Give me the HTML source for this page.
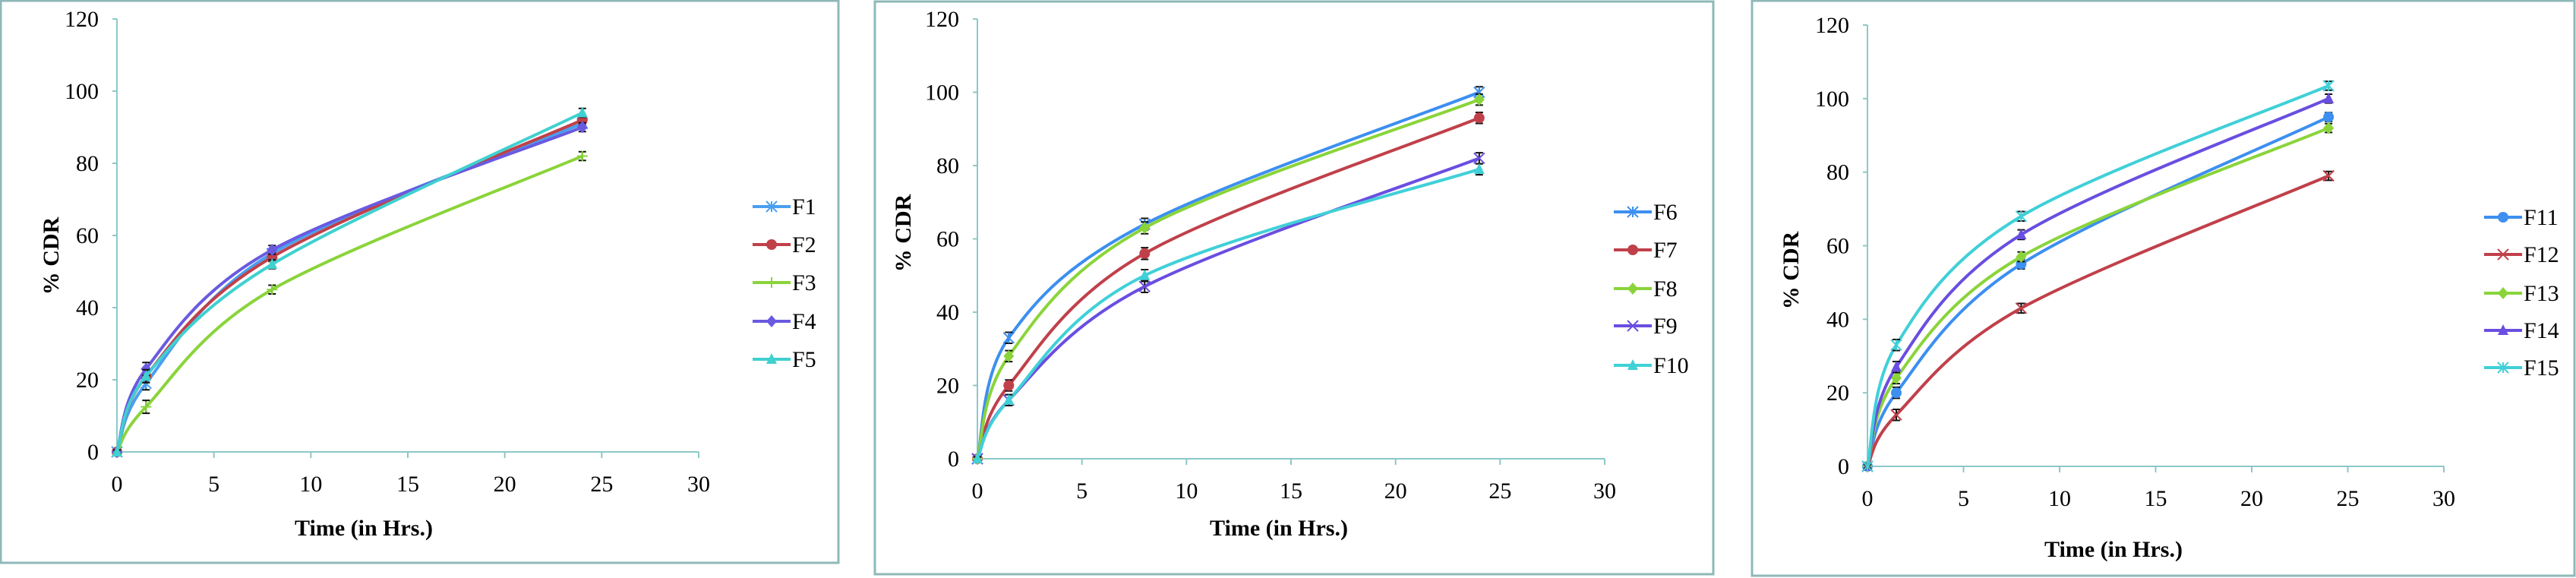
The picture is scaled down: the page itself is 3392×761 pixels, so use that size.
<!DOCTYPE html>
<html><head><meta charset="utf-8"><style>
html,body{margin:0;padding:0;background:#fff;}
svg{display:block;}
text{font-family:"Liberation Serif",serif;fill:#000;}
</style></head><body>
<svg id="chart" width="3392" height="761" viewBox="0 0 3392 761" xmlns="http://www.w3.org/2000/svg"></svg>
<script>
const times = [0, 1.5, 8, 24];
const xTicks = [0, 5, 10, 15, 20, 25, 30];
const yTicks = [0, 20, 40, 60, 80, 100, 120];

const p1Names = ["F1","F2","F3","F4","F5"];
const p1F1 = [0, 19, 55, 91];
const p1F2 = [0, 21, 54, 92];
const p1F3 = [0, 12.5, 45, 82];
const p1F4 = [0, 23, 56, 90];
const p1F5 = [0, 21, 52, 94];
const p1Err = [0.5, 1.8, 1.2, 1.2];

const p2Names = ["F6","F7","F8","F9","F10"];
const p2F6 = [0, 33, 64, 100];
const p2F7 = [0, 20, 56, 93];
const p2F8 = [0, 28, 63, 98];
const p2F9 = [0, 16, 47, 82];
const p2F10 = [0, 16, 50, 79];
const p2Err = [0.5, 1.5, 1.6, 1.5];

const p3Names = ["F11","F12","F13","F14","F15"];
const p3F11 = [0, 20, 55, 95];
const p3F12 = [0, 14, 43, 79];
const p3F13 = [0, 24, 57, 92];
const p3F14 = [0, 27, 63, 100];
const p3F15 = [0, 33, 68, 103.5];
const p3Err = [0.5, 1.5, 1.3, 1.2];

const NS = "http://www.w3.org/2000/svg";
const svg = document.getElementById("chart");
function mk(tag, attrs, parent){
  const e = document.createElementNS(NS, tag);
  for (const k in attrs) e.setAttribute(k, attrs[k]);
  (parent || svg).appendChild(e);
  return e;
}

const panels = [
  {border:[1,1,1104,741], x0:154, x1:920, y0:595, y1:25, names:p1Names, series:[p1F1,p1F2,p1F3,p1F4,p1F5], err:p1Err,
   colors:["#4a9ff0","#c0404a","#8ad43a","#6a5ae0","#40d0d0"], markers:["star","circle","plus","diamond","triangle"],
   legX:991, legY:[272,322,372,423,473], ylabX:77, ylabY:337, xlabX:479, xlabY:705},
  {border:[1152,2,2256,756], x0:1287, x1:2113, y0:604, y1:25, names:p2Names, series:[p2F6,p2F7,p2F8,p2F9,p2F10], err:p2Err,
   colors:["#3d8ff0","#c0404a","#8ad43a","#6a4ee0","#40d0d8"], markers:["asterisk","circle","diamond","x","triangle"],
   legX:2125, legY:[279,329,380,429,481], ylabX:1199, ylabY:307, xlabX:1684, xlabY:705},
  {border:[2307,1,3390,758], x0:2459, x1:3218, y0:614, y1:33, names:p3Names, series:[p3F11,p3F12,p3F13,p3F14,p3F15], err:p3Err,
   colors:["#3d8ff0","#c0404a","#8ad43a","#6a4ee0","#40d0d8"], markers:["circle","x","diamond","triangle","asterisk"],
   legX:3271, legY:[286,335,386,435,484], ylabX:2368, ylabY:356, xlabX:2783, xlabY:733}
];

function marker(type, cx, cy, color, g){
  const s = 7;
  if (type==="circle") return mk("circle",{cx,cy,r:s,fill:color},g);
  if (type==="diamond") return mk("path",{d:`M${cx},${cy-s-1}L${cx+s},${cy}L${cx},${cy+s+1}L${cx-s},${cy}Z`,fill:color},g);
  if (type==="triangle") return mk("path",{d:`M${cx},${cy-s-1}L${cx+s},${cy+s-1}L${cx-s},${cy+s-1}Z`,fill:color},g);
  if (type==="x") return mk("path",{d:`M${cx-s},${cy-s}L${cx+s},${cy+s}M${cx-s},${cy+s}L${cx+s},${cy-s}`,stroke:color,"stroke-width":2,fill:"none"},g);
  if (type==="plus") return mk("path",{d:`M${cx-s},${cy}L${cx+s},${cy}M${cx},${cy-s}L${cx},${cy+s}`,stroke:color,"stroke-width":2,fill:"none"},g);
  if (type==="star"||type==="asterisk") return mk("path",{d:`M${cx-s},${cy-s}L${cx+s},${cy+s}M${cx-s},${cy+s}L${cx+s},${cy-s}M${cx},${cy-s}L${cx},${cy+s}`,stroke:color,"stroke-width":2,fill:"none"},g);
}

function spline(pts){
  let d = `M${pts[0][0]},${pts[0][1]}`;
  for (let i=0;i<pts.length-1;i++){
    const p0 = pts[Math.max(0,i-1)], p1 = pts[i], p2 = pts[i+1], p3 = pts[Math.min(pts.length-1,i+2)];
    const c1 = [p1[0]+(p2[0]-p0[0])/6, p1[1]+(p2[1]-p0[1])/6];
    const c2 = [p2[0]-(p3[0]-p1[0])/6, p2[1]-(p3[1]-p1[1])/6];
    d += `C${c1[0]},${c1[1]} ${c2[0]},${c2[1]} ${p2[0]},${p2[1]}`;
  }
  return d;
}

panels.forEach((P, pi) => {
  const g = mk("g",{});
  
  
  const xs = v => P.x0 + (P.x1-P.x0)*v/30;
  const ys = v => P.y0 + (P.y1-P.y0)*v/120;
  const b = P.border;
  const br = mk("rect",{x:b[0],y:b[1],width:b[2]-b[0],height:b[3]-b[1],fill:"none",stroke:"#8fb8b8","stroke-width":3},g);
  
  
  // axes
  const ya = mk("line",{x1:P.x0,y1:P.y0,x2:P.x0,y2:P.y1,stroke:"#8cc8c8","stroke-width":2},g);
  
  
  const xa = mk("line",{x1:P.x0,y1:P.y0,x2:P.x1,y2:P.y0,stroke:"#8cc8c8","stroke-width":2},g);
  
  
  yTicks.forEach(t => {
    mk("line",{x1:P.x0-6,y1:ys(t),x2:P.x0,y2:ys(t),stroke:"#8cc8c8","stroke-width":2},g);
    const tx = mk("text",{x:P.x0-24,y:ys(t)+10,"text-anchor":"end","font-size":30},g);
    tx.textContent = t;
    
    
  });
  xTicks.forEach(t => {
    mk("line",{x1:xs(t),y1:P.y0,x2:xs(t),y2:P.y0+8,stroke:"#8cc8c8","stroke-width":2},g);
    const tx = mk("text",{x:xs(t),y:P.y0+52,"text-anchor":"middle","font-size":30},g);
    tx.textContent = t;
    
    
  });
  const yl = mk("text",{x:P.ylabX,y:P.ylabY,"text-anchor":"middle","font-size":30,"font-weight":"bold",transform:`rotate(-90 ${P.ylabX} ${P.ylabY})`},g);
  yl.textContent = "% CDR";
  
  
  const xl = mk("text",{x:P.xlabX,y:P.xlabY,"text-anchor":"middle","font-size":30,"font-weight":"bold"},g);
  xl.textContent = "Time (in Hrs.)";
  
  

  P.series.forEach((vals, si) => {
    const col = P.colors[si];
    const sg = mk("g",{},g);
    
    
    const pts = times.map((t,i)=>[xs(t), ys(vals[i])]);
    mk("path",{d:spline(pts),fill:"none",stroke:col,"stroke-width":4},sg);
    pts.forEach((p,i)=>{
      const e = P.err[i];
      const top = ys(vals[i]+e), bot = ys(vals[i]-e);
      const eb = mk("path",{d:`M${p[0]},${top}L${p[0]},${bot}M${p[0]-5},${top}L${p[0]+5},${top}M${p[0]-5},${bot}L${p[0]+5},${bot}`,stroke:"#111","stroke-width":2,fill:"none"},sg);
      
      
      const m = marker(P.markers[si], p[0], p[1], col, sg);
      
      
    });
    const lg = mk("g",{},g);
    
    
    const ly = P.legY[si];
    mk("line",{x1:P.legX,y1:ly,x2:P.legX+50,y2:ly,stroke:col,"stroke-width":4},lg);
    marker(P.markers[si], P.legX+25, ly, col, lg);
    const lt = mk("text",{x:P.legX+52,y:ly+10,"font-size":30},lg);
    lt.textContent = P.names[si];
  });
});
</script>
</body></html>
